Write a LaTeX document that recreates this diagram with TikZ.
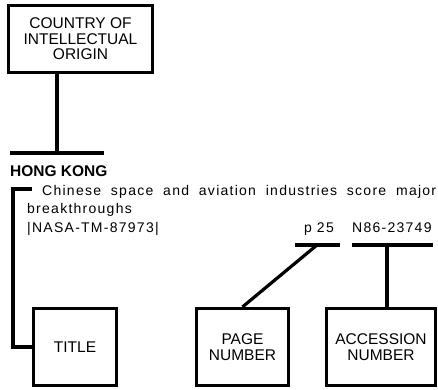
\documentclass[tikz,border=0pt]{standalone}
\usepackage{fontspec}
\setmainfont{Liberation Sans}
\begin{document}
\begin{tikzpicture}[x=1pt,y=-1pt,
    box/.style={draw, line width=3.2pt, align=center, inner sep=0pt,
      font=\fontsize{15.5}{15.5}\selectfont},
    wire/.style={line width=3.2pt},
    entry/.style={anchor=base west, inner sep=0pt,
      font=\fontsize{14}{16}\selectfont\addfontfeature{LetterSpace=9}}]
    \useasboundingbox (0,0) rectangle (438,389);

    % Country box
    \node[box, minimum width=144pt, minimum height=67pt] (origin) at (80.5,39)
      {COUNTRY OF\\INTELLECTUAL\\ORIGIN};
    \coordinate (origintop) at (57,72.5);
    \coordinate (originfoot) at (57,153);
    \coordinate (countryleft) at (10,153);
    \coordinate (countryright) at (104,153);
    \draw[wire] (origintop) -- (originfoot);
    \draw[wire] (countryleft) -- (countryright);

    % The entry
    \node[anchor=base west, inner sep=0pt, font=\fontsize{15.5}{16}\selectfont\bfseries]
      (country) at (10,176.5) {HONG KONG};
    \node[entry] (titleline) at (42,195)
      {\makebox[394pt][s]{Chinese space and aviation industries score major}};
    \node[entry] (titlemore) at (27,213) {breakthroughs};
    \node[entry] (report) at (27,232) {|NASA-TM-87973|};
    \node[entry, anchor=base east] (page) at (334,232) {p 25};
    \node[entry] (accession) at (352,232) {N86-23749};

    % Underlines
    \coordinate (pageleft) at (295,245);
    \coordinate (pageright) at (340,245);
    \coordinate (pagefoot) at (317,245);
    \coordinate (accleft) at (352,245);
    \coordinate (accright) at (433,245);
    \coordinate (accfoot) at (387,245);
    \draw[wire] (pageleft) -- (pageright);
    \draw[wire] (accleft) -- (accright);

    % Lower boxes
    \node[box, minimum width=83pt, minimum height=77pt] (title) at (75,347) {TITLE};
    \node[box, minimum width=92pt, minimum height=77pt] (pagebox) at (242.5,347) {PAGE\\NUMBER};
    \node[box, minimum width=109pt, minimum height=77pt] (accbox) at (381,347) {ACCESSION\\NUMBER};

    % Leaders
    \coordinate (bracket) at (32,189);
    \draw[wire] (bracket) -- (13,189) |- (title.west);
    \draw[wire] (pagefoot) -- (pagebox.north);
    \draw[wire] (accfoot) -- (accfoot |- accbox.north);

\end{tikzpicture}
\end{document}
